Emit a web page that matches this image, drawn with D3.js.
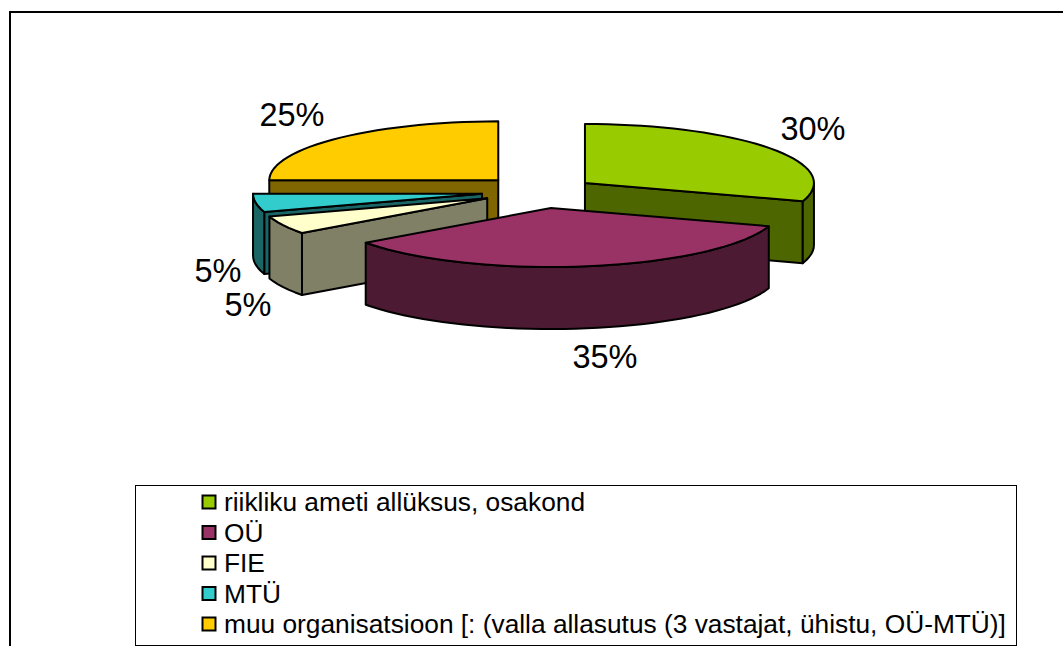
<!DOCTYPE html>
<html><head><meta charset="utf-8">
<script src="https://cdn.jsdelivr.net/npm/d3@7"></script>
<style>html,body{margin:0;padding:0;background:#fff;overflow:hidden}svg{display:block}text{font-family:"Liberation Sans",Arial,sans-serif;fill:#000}</style>
</head><body><svg id="c" width="1063" height="646"></svg>
<script>
const categories = ["riikliku ameti allüksus, osakond","OÜ","FIE","MTÜ","muu organisatsioon [: (valla allasutus (3 vastajat, ühistu, OÜ-MTÜ)]"];
const values = [30,35,5,5,25];
const explode = [54.7,65.7,60,59.4,60];
const topColors = ["#99CC00","#993366","#FFFFCC","#33CCCC","#FFCC00"];
const sideColors = ["#4D6600","#4D1A33","#808066","#1A6666","#806600"];

const svg = d3.select("#c");
// chart frame
svg.append("rect").attr("x",10).attr("y",12).attr("width",1070).attr("height",660).attr("fill","#fff").attr("stroke","#000").attr("stroke-width",2);

const cx=540.7, cy=191.3, rx=229, ry=59, depth=62;
const pie=d3.pie().sort(null).value(d=>d)(values);
const pt=(a,ox=0,oy=0,dz=0)=>[cx+ox+rx*Math.sin(a), cy+oy-ry*Math.cos(a)+dz];
const line=d3.line();
const arcPts=(a0,a1,ox,oy,dz=0)=>{
  const n=Math.max(2,Math.round((a1-a0)/0.05));
  return d3.range(n+1).map(i=>pt(a0+(a1-a0)*i/n,ox,oy,dz));
};
const slices=pie.map((p,i)=>{
  const m=(p.startAngle+p.endAngle)/2;
  return {i,a0:p.startAngle,a1:p.endAngle,ox:explode[i]*Math.sin(m),oy:-explode[i]*(ry/rx)*Math.cos(m)};
});
const order=[4,0,3,2,1];
const stroke=s=>s.attr("stroke","#000").attr("stroke-width",2).attr("stroke-linejoin","round");
order.forEach(k=>{
  const s=slices[k], g=svg.append("g");
  const apex=[cx+s.ox,cy+s.oy];
  const apexB=[apex[0],apex[1]+depth];
  // the radial cut face that turns towards the viewer
  const faceAngle = s.a0>=Math.PI ? s.a0 : (s.a1<=Math.PI ? s.a1 : null);
  if(faceAngle!==null && k!==1){
    const e=pt(faceAngle,s.ox,s.oy);
    stroke(g.append("path").attr("d",line([apex,e,[e[0],e[1]+depth],apexB])+"Z").attr("fill",sideColors[k]));
  }
  // outer wall: front half of the ellipse only
  const w0=Math.max(s.a0,Math.PI/2), w1=Math.min(s.a1,3*Math.PI/2);
  if(w1>w0){
    const t=arcPts(w0,w1,s.ox,s.oy), b=arcPts(w0,w1,s.ox,s.oy,depth).reverse();
    stroke(g.append("path").attr("d",line(t.concat(b))+"Z").attr("fill",sideColors[k]));
  }
  // top
  stroke(g.append("path").attr("d",line([apex].concat(arcPts(s.a0,s.a1,s.ox,s.oy)))+"Z").attr("fill",topColors[k]));
});
// data labels
const labelPos=[[813,129],[605,357],[248,305],[218,271],[292,115]];
slices.forEach(s=>{
  svg.append("text").attr("x",labelPos[s.i][0]).attr("y",labelPos[s.i][1]+11).attr("text-anchor","middle").attr("font-size",32.5).text(values[s.i]+"%");
});
// legend
svg.append("rect").attr("x",135.5).attr("y",485.5).attr("width",881).attr("height",160).attr("fill","#fff").attr("stroke","#000").attr("stroke-width",1);
const ly=d3.scalePoint().domain(d3.range(categories.length)).range([502,624]);
categories.forEach((c,i)=>{
  const y=ly(i);
  svg.append("rect").attr("x",202.5).attr("y",y-6.5).attr("width",13).attr("height",13).attr("fill",topColors[i]).attr("stroke","#000").attr("stroke-width",2);
  svg.append("text").attr("x",224).attr("y",y+9).attr("font-size",26.3).text(c);
});
</script></body></html>
